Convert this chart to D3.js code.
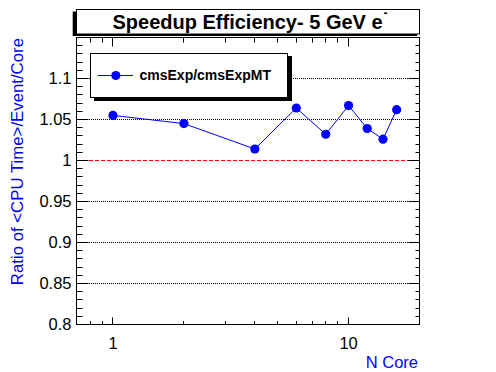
<!DOCTYPE html>
<html><head><meta charset="utf-8">
<script src="https://cdn.jsdelivr.net/npm/d3@7"></script>
<style>body{margin:0;background:#fff}svg{display:block;font-family:"Liberation Sans",Arial,Helvetica,sans-serif}</style>
</head><body><svg id="c" width="496" height="372"></svg>
<script>
const cores = [1, 2, 4, 6, 8, 10, 12, 14, 16];
const ratio = [1.055, 1.045, 1.014, 1.064, 1.032, 1.067, 1.039, 1.026, 1.062];
const yTickValues = [0.8, 0.85, 0.9, 0.95, 1, 1.05, 1.1];
const xTickLabels = [1, 10];
const xMinorTicks = [0.8, 0.9, 2, 3, 4, 5, 6, 7, 8, 9];
const seriesName = "cmsExp/cmsExpMT";
const titleText = "Speedup Efficiency- 5 GeV e";
const xTitle = "N Core";
const yTitle = "Ratio of <CPU Time>/Event/Core";

const svg = d3.select("#c");
const x = d3.scaleLog().domain([0.7, 20]).range([76.5, 419.5]);
const y = d3.scaleLinear().domain([0.8, 1.15]).range([324.5, 37.5]);
const [x0, x1] = x.range();
const [y0, y1] = y.range();

// gridlines (dotted), aligned to whole pixels so dots stay crisp
svg.append("g").selectAll("line")
  .data(yTickValues.filter(v => v > 0.8 && v !== 1))
  .join("line")
  .attr("x1", Math.ceil(x0)).attr("x2", Math.floor(x1))
  .attr("y1", d => Math.round(y(d) - 0.5) + 0.5).attr("y2", d => Math.round(y(d) - 0.5) + 0.5)
  .attr("stroke", "#000").attr("stroke-width", 1).attr("stroke-dasharray", "1,1")
  .attr("shape-rendering", "crispEdges");

// red dashed line at 1
svg.append("line")
  .attr("x1", Math.ceil(x0)).attr("x2", Math.floor(x1))
  .attr("y1", Math.round(y(1) - 0.5) + 0.5).attr("y2", Math.round(y(1) - 0.5) + 0.5)
  .attr("stroke", "#ff0000").attr("stroke-width", 1).attr("stroke-dasharray", "4,2")
  .attr("shape-rendering", "crispEdges");

// y ticks (left & right)
const yMinor = d3.range(0, 36).map(i => +(0.8 + i * 0.01).toFixed(2));
const yt = svg.append("g").attr("stroke", "#000").attr("stroke-width", 1);
yMinor.forEach(v => {
  const major = yTickValues.some(t => Math.abs(t - v) < 1e-9);
  const py = Math.round(y(v) - 0.5) + 0.5;
  yt.append("line").attr("x1", x0).attr("x2", x0 + (major ? 12 : 6)).attr("y1", py).attr("y2", py);
  yt.append("line").attr("x1", x1).attr("x2", x1 - (major ? 11 : 4)).attr("y1", py).attr("y2", py);
});

// x ticks (bottom & top)
const xt = svg.append("g").attr("stroke", "#000").attr("stroke-width", 1);
xTickLabels.forEach(v => {
  const px = Math.round(x(v) - 0.5) + 0.5;
  xt.append("line").attr("x1", px).attr("x2", px).attr("y1", y0).attr("y2", y0 - 7);
  xt.append("line").attr("x1", px).attr("x2", px).attr("y1", y1).attr("y2", y1 + 9);
});
xMinorTicks.forEach(v => {
  const px = Math.round(x(v) - 0.5) + 0.5;
  xt.append("line").attr("x1", px).attr("x2", px).attr("y1", y0).attr("y2", y0 - 3.5);
  xt.append("line").attr("x1", px).attr("x2", px).attr("y1", y1).attr("y2", y1 + 5);
});

// frame
svg.append("rect").attr("x", x0).attr("y", y1).attr("width", x1 - x0).attr("height", y0 - y1)
  .attr("fill", "none").attr("stroke", "#000").attr("stroke-width", 1);

// tick labels
svg.append("g").selectAll("text").data(yTickValues).join("text")
  .attr("x", 71.5).attr("y", d => y(d)).attr("dy", "0.36em")
  .attr("text-anchor", "end").attr("font-size", "16.5px").attr("fill", "#000")
  .text(d => String(d));
svg.append("g").selectAll("text").data(xTickLabels).join("text")
  .attr("x", d => x(d)).attr("y", 348.5)
  .attr("text-anchor", "middle").attr("font-size", "16.5px").attr("fill", "#000")
  .text(d => String(d));

// axis titles
svg.append("text").attr("x", 418).attr("y", 367.5).attr("text-anchor", "end")
  .attr("font-size", "16.5px").attr("fill", "#0000ff").text(xTitle);
svg.append("text").attr("transform", "translate(23,38) rotate(-90)").attr("text-anchor", "end")
  .attr("font-size", "16.8px").attr("fill", "#0000ff").text(yTitle);

// data line + markers
const pts = cores.map((c, i) => [c, ratio[i]]);
svg.append("path").datum(pts)
  .attr("d", d3.line().x(d => x(d[0])).y(d => y(d[1])))
  .attr("fill", "none").attr("stroke", "#0000ff").attr("stroke-width", 1);
svg.append("g").selectAll("circle").data(pts).join("circle")
  .attr("cx", d => x(d[0])).attr("cy", d => y(d[1])).attr("r", 4.6).attr("fill", "#0000ff");

// legend
const lg = svg.append("g");
lg.append("rect").attr("x", 94).attr("y", 56).attr("width", 198).attr("height", 45).attr("fill", "#000");
lg.append("rect").attr("x", 90.5).attr("y", 53.5).attr("width", 197).attr("height", 44)
  .attr("fill", "#fff").attr("stroke", "#000").attr("stroke-width", 1);
lg.append("line").attr("x1", 97.5).attr("x2", 133).attr("y1", 75.5).attr("y2", 75.5)
  .attr("stroke", "#0000ff").attr("stroke-width", 1);
lg.append("circle").attr("cx", 115.8).attr("cy", 75.5).attr("r", 4.6).attr("fill", "#0000ff");
lg.append("text").attr("x", 139.5).attr("y", 80).attr("font-size", "14px").attr("font-weight", "bold")
  .attr("fill", "#000").text(seriesName);

// title box
const tg = svg.append("g");
tg.append("rect").attr("x", 72.7).attr("y", 11.5).attr("width", 344.5).attr("height", 24.5).attr("fill", "#000");
tg.append("rect").attr("x", 76.5).attr("y", 9.5).attr("width", 343).attr("height", 24.5)
  .attr("fill", "#fff").attr("stroke", "#000").attr("stroke-width", 1);
const tt = tg.append("text").attr("x", 112.5).attr("y", 28.5).attr("font-size", "20px")
  .attr("font-weight", "bold").attr("fill", "#000");
tt.append("tspan").text(titleText);
tt.append("tspan").attr("dx", 1).attr("dy", -12).attr("font-size", "12px").text("-");
</script></body></html>
